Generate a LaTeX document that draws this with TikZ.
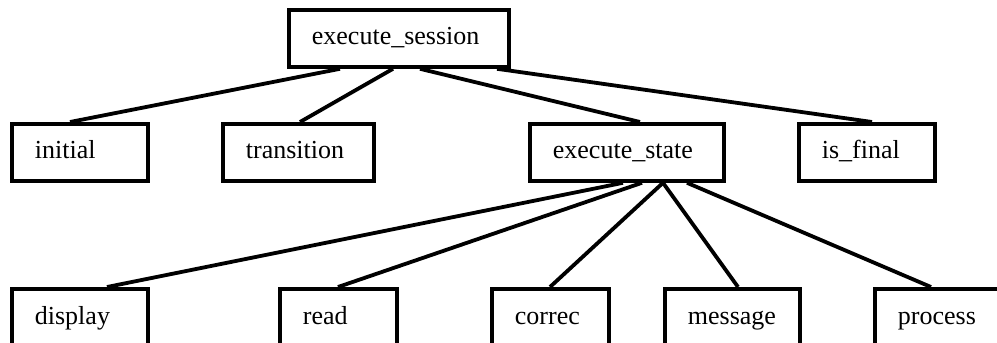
\documentclass[tikz,border=0pt]{standalone}
\usepackage{fontspec}
\setmainfont{Liberation Serif}
\begin{document}
\begin{tikzpicture}[x=1pt,y=-1pt,
  box/.style={draw=black, line width=3.8pt, rectangle, anchor=north west,
    inner xsep=23pt, inner ysep=0pt, align=left, minimum height=57pt,
    text height=18pt, text depth=5pt,
    font=\fontsize{26}{30}\selectfont},
  link/.style={draw=black, line width=3.8pt}]
\useasboundingbox (0,0) rectangle (997,343);
\clip (0,0) rectangle (997,343);
\fill[white] (0,0) rectangle (997,343);
% boxes
\node[box, minimum width=220pt, text width=174pt] (es) at (287,8) {execute\_session};
\node[box, minimum width=136pt, text width=90pt] (ini) at (10,122) {initial};
\node[box, minimum width=151pt, text width=105pt] (tr) at (221,122) {transition};
\node[box, minimum width=194pt, text width=148pt] (est) at (528,122) {execute\_state};
\node[box, minimum width=136pt, text width=90pt] (fin) at (797,122) {is\_final};
\node[box, minimum width=136pt, text width=90pt, minimum height=58pt] (dis) at (10,287) {display};
\node[box, minimum width=117pt, text width=71pt, minimum height=58pt] (rd) at (278,287) {read};
\node[box, minimum width=117pt, text width=71pt, minimum height=58pt] (cor) at (490,287) {correc};
\node[box, minimum width=135pt, text width=89pt, minimum height=58pt] (msg) at (663,287) {message};
\node[box, minimum width=140pt, text width=94pt, minimum height=58pt] (pro) at (873,287) {process};
% connectors
\draw[link] ([xshift=53pt]es.south west) -- ([xshift=60pt]ini.north west);
\draw[link] ([xshift=106pt]es.south west) -- ([xshift=79pt]tr.north west);
\draw[link] ([xshift=133pt]es.south west) -- ([xshift=112pt]est.north west);
\draw[link] ([xshift=210pt]es.south west) -- ([xshift=75pt]fin.north west);
\draw[link] ([xshift=95pt]est.south west) -- ([xshift=97pt]dis.north west);
\draw[link] ([xshift=114pt]est.south west) -- ([xshift=60pt]rd.north west);
\draw[link] ([xshift=135pt]est.south west) -- ([xshift=60pt]cor.north west);
\draw[link] ([xshift=135pt]est.south west) -- ([xshift=75pt]msg.north west);
\draw[link] ([xshift=159pt]est.south west) -- ([xshift=58pt]pro.north west);
\end{tikzpicture}
\end{document}
